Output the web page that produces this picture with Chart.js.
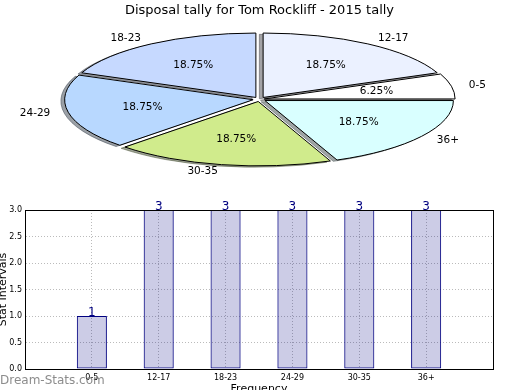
<!DOCTYPE html>
<html>
<head>
<meta charset="utf-8">
<script src="https://cdn.jsdelivr.net/npm/chart.js@4/dist/chart.umd.min.js"></script>
<style>
  html, body { margin: 0; padding: 0; background: #fff; }
  body { width: 520px; height: 390px; position: relative; overflow: hidden; }
  #pie { position: absolute; left: 0; top: 0; }
  #bars { position: absolute; left: -5px; top: 195px; }
  #mark { position: absolute; left: 0; top: 373px; font: 12px "DejaVu Sans"; color: rgba(120,120,120,0.85); }
</style>
</head>
<body>
<canvas id="pie" width="520" height="195"></canvas>
<canvas id="bars" width="530" height="205"></canvas>
<div id="mark">Dream-Stats.com</div>
<script>
const categories = ["0-5", "12-17", "18-23", "24-29", "30-35", "36+"];
const counts = [1, 3, 3, 3, 3, 3];
const sliceColors = ["#ffffff", "#ebf1ff", "#c6d9ff", "#b8d8ff", "#d0eb8c", "#d9ffff"];
const yMax = 3;
const yStep = 0.5;

Chart.defaults.font.family = "'DejaVu Sans', sans-serif";
Chart.defaults.color = "#000";

const squashY = 0.3417;

function squash(ctx, arc) {
  ctx.translate(arc.x, arc.y);
  ctx.scale(1, squashY);
  ctx.translate(-arc.x, -arc.y);
}

// same geometry chart.js uses for an offset arc
function slicePath(ctx, arc, dx, dy) {
  const o = (arc.options.offset || 0) / 4;
  const mid = (arc.startAngle + arc.endAngle) / 2;
  const fix = 1 - Math.sin(Math.min(Math.PI, arc.endAngle - arc.startAngle));
  const r = arc.outerRadius + o * fix;
  const x = arc.x + Math.cos(mid) * o + dx;
  const y = arc.y + Math.sin(mid) * o + dy;
  ctx.moveTo(x, y);
  ctx.arc(x, y, r, arc.startAngle, arc.endAngle);
  ctx.closePath();
}

function shade(hex) {
  const n = parseInt(hex.slice(1), 16);
  const r = Math.round(((n >> 16) & 255) * 0.3);
  const g = Math.round(((n >> 8) & 255) * 0.3);
  const b = Math.round((n & 255) * 0.3);
  return `rgba(${r},${g},${b},0.5)`;
}

const pieShape = {
  id: "pieShape",
  beforeDatasetsDraw(chart) {
    const ctx = chart.ctx;
    const arcs = chart.getDatasetMeta(0).data;
    const colors = chart.data.datasets[0].backgroundColor;
    const R = arcs[0].outerRadius;
    arcs.forEach((arc, i) => {
      ctx.save();
      squash(ctx, arc);
      ctx.beginPath();
      slicePath(ctx, arc, -0.02 * R, 0.02 * R);
      ctx.restore();
      ctx.fillStyle = shade(colors[i]);
      ctx.strokeStyle = shade(colors[i]);
      ctx.lineWidth = 1;
      ctx.fill();
      ctx.stroke();
    });
    ctx.save();
    squash(ctx, arcs[0]);
  },
  afterDatasetsDraw(chart) {
    const ctx = chart.ctx;
    ctx.restore();
    const arcs = chart.getDatasetMeta(0).data;
    const values = chart.data.datasets[0].data;
    const labels = chart.data.labels;
    const total = values.reduce((a, b) => a + b, 0);
    const R = arcs[0].outerRadius;
    arcs.forEach((arc) => {
      ctx.save();
      squash(ctx, arc);
      ctx.beginPath();
      slicePath(ctx, arc, 0, 0);
      ctx.restore();
      ctx.strokeStyle = "#000";
      ctx.lineWidth = 1;
      ctx.stroke();
    });
    ctx.save();
    ctx.fillStyle = "#000";
    ctx.font = "10.5px 'DejaVu Sans'";
    ctx.textBaseline = "middle";
    arcs.forEach((arc, i) => {
      const mid = (arc.startAngle + arc.endAngle) / 2;
      const o = 6.5;
      const c = Math.cos(mid), s = Math.sin(mid);
      ctx.textAlign = "center";
      ctx.fillText((values[i] / total * 100).toFixed(2) + "%",
        arc.x + c * (o + 0.6 * R), arc.y + s * (o + 0.6 * R) * squashY);
      ctx.textAlign = c < 0 ? "right" : "left";
      ctx.fillText(labels[i],
        arc.x + c * (o + 1.1 * R), arc.y + s * (o + 1.1 * R) * squashY);
    });
    ctx.restore();
  }
};

new Chart(document.getElementById("pie"), {
  type: "pie",
  data: {
    labels: categories.slice().reverse(),
    datasets: [{
      data: counts.slice().reverse(),
      backgroundColor: sliceColors.slice().reverse(),
      borderWidth: 0,
      offset: [26, 26, 26, 26, 26, 19],
      clip: false
    }]
  },
  options: {
    responsive: false,
    animation: false,
    events: [],
    rotation: 90,
    radius: 188,
    layout: { padding: { left: 0, right: 1, top: 0, bottom: 15 } },
    plugins: {
      legend: { display: false },
      tooltip: { enabled: false },
      title: {
        display: true,
        text: "Disposal tally for Tom Rockliff - 2015 tally",
        font: { size: 13, weight: "normal" },
        color: "#000",
        padding: { top: 3, bottom: 0 }
      }
    }
  },
  plugins: [pieShape]
});

const frame = {
  id: "frame",
  afterDraw(chart) {
    const { ctx, chartArea: a } = chart;
    ctx.save();
    ctx.strokeStyle = "#000";
    ctx.lineWidth = 1;
    ctx.strokeRect(Math.round(a.left) + 0.5, Math.round(a.top) + 0.5,
      Math.round(a.right - a.left), Math.round(a.bottom - a.top));
    ctx.restore();
  }
};

const valueLabels = {
  id: "valueLabels",
  afterDatasetsDraw(chart) {
    const ctx = chart.ctx;
    const values = chart.data.datasets[0].data;
    ctx.save();
    ctx.fillStyle = "#000080";
    ctx.font = "12px 'DejaVu Sans'";
    ctx.textAlign = "center";
    ctx.textBaseline = "alphabetic";
    chart.getDatasetMeta(0).data.forEach((bar, i) => {
      if (values[i] == null) return;
      ctx.fillText(String(values[i]), bar.x, bar.y);
    });
    ctx.restore();
  }
};

const gridStyle = { color: "#bbbbbb", lineWidth: 1, drawTicks: false, offset: false };
const borderStyle = { color: "#000", width: 1, dash: [1, 2] };

new Chart(document.getElementById("bars"), {
  type: "bar",
  data: {
    labels: ["", ...categories, ""],
    datasets: [{
      data: [null, ...counts, null],
      backgroundColor: "rgba(0,0,128,0.2)",
      borderColor: "#000080",
      borderWidth: 1,
      borderSkipped: false,
      barPercentage: 0.45,
      categoryPercentage: 1
    }]
  },
  options: {
    responsive: false,
    animation: false,
    events: [],
    layout: { padding: { left: 0, right: 32, top: 15, bottom: 0 } },
    plugins: { legend: { display: false }, tooltip: { enabled: false } },
    scales: {
      x: {
        offset: false,
        grid: gridStyle,
        border: borderStyle,
        ticks: { font: { size: 8 }, color: "#000", padding: 4, maxRotation: 0, autoSkip: false },
        title: { display: true, text: "Frequency", font: { size: 11 }, color: "#000", padding: { top: 0, bottom: 4.4 } },
        afterFit(scale) { scale.height = 31; }
      },
      y: {
        min: 0,
        max: yMax,
        grid: gridStyle,
        border: borderStyle,
        ticks: { stepSize: yStep, font: { size: 8 }, color: "#000", padding: 3, callback: (v) => v.toFixed(1) },
        title: { display: true, text: "Stat Intervals", font: { size: 11 }, color: "#000", padding: { top: 1.4, bottom: 0 } },
        afterFit(scale) { scale.width = 30; }
      }
    }
  },
  plugins: [frame, valueLabels]
});
</script>
</body>
</html>
